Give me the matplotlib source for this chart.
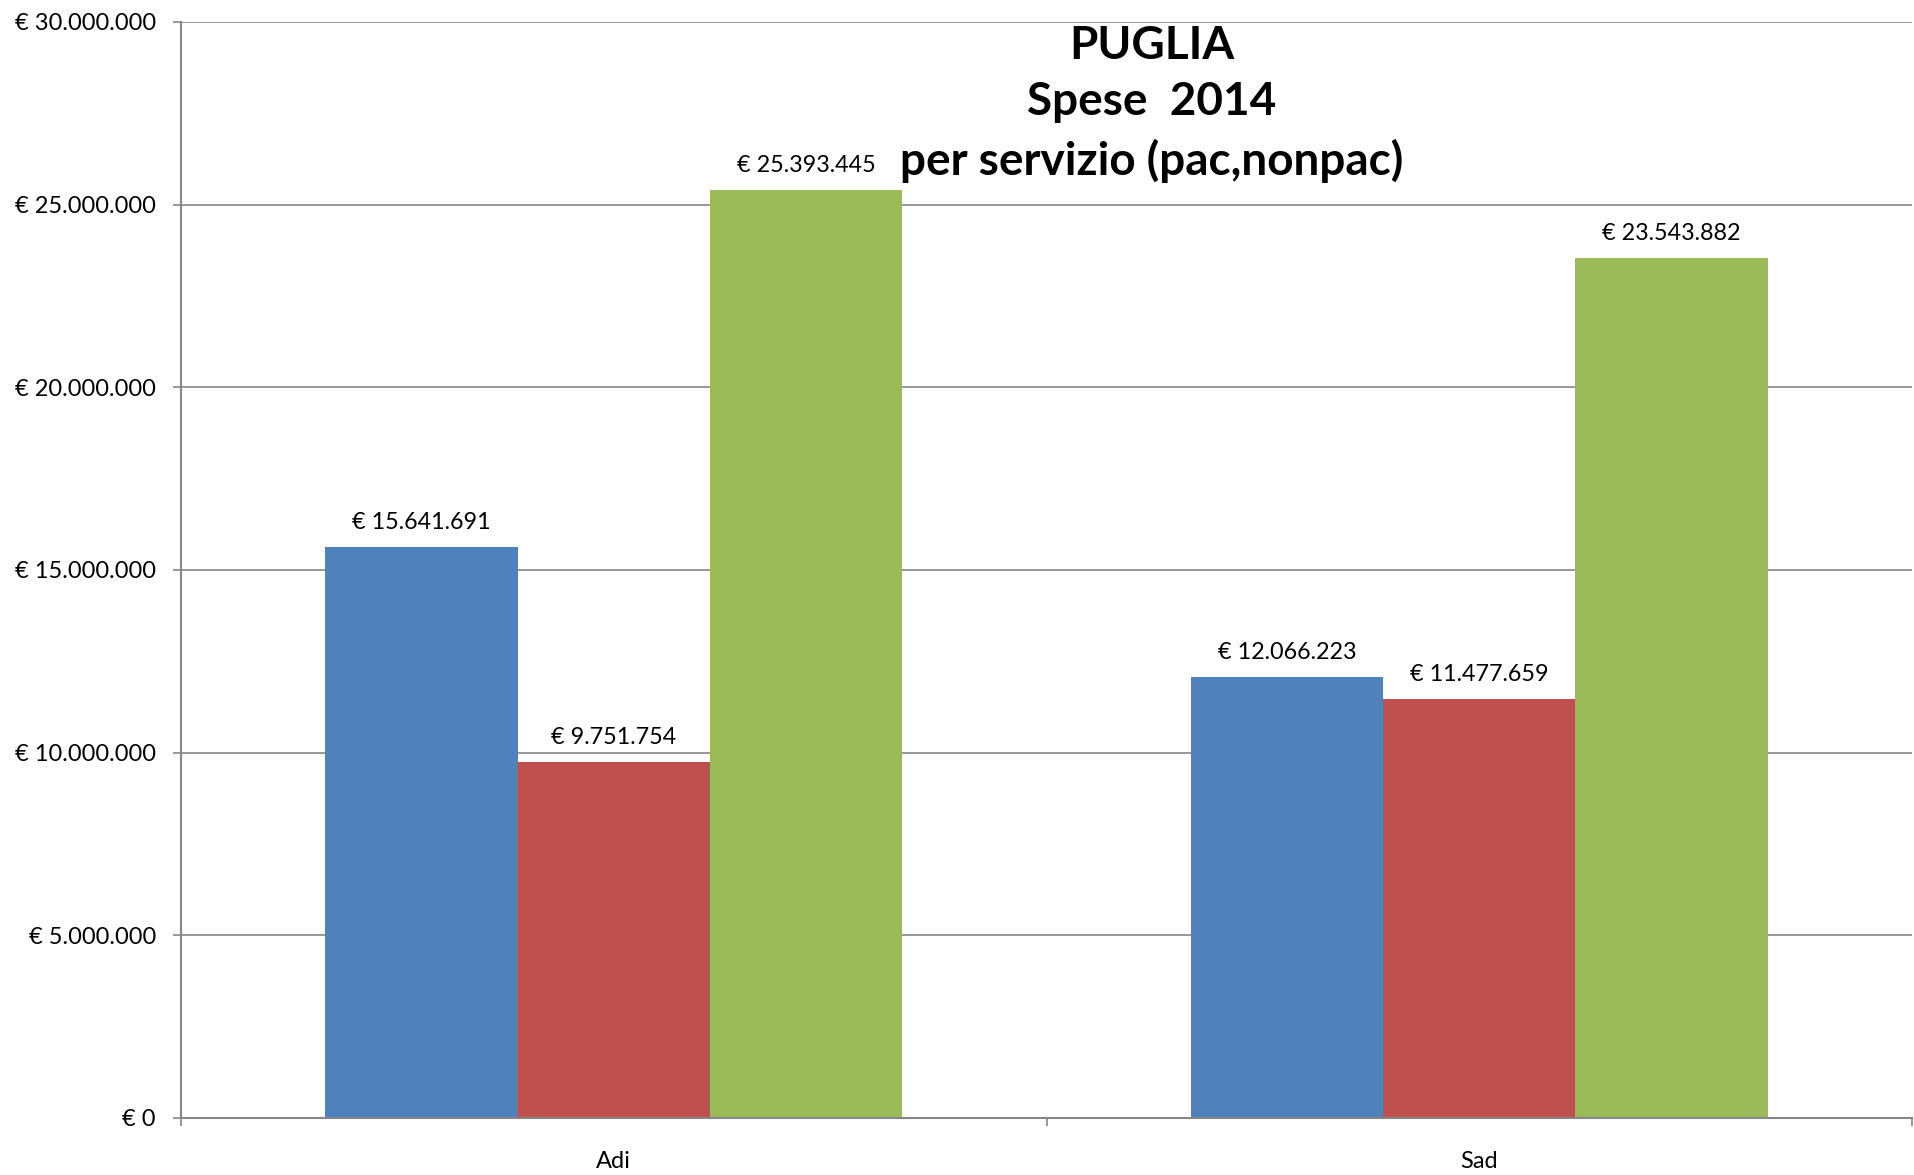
import numpy as np
import matplotlib.pyplot as plt
from matplotlib.ticker import FuncFormatter

plt.rcParams['font.family'] = ['Lato', 'DejaVu Sans']

# dati
categorie = ['Adi', 'Sad']
serie_1 = [15641691, 12066223]
serie_2 = [9751754, 11477659]
serie_3 = [25393445, 23543882]
colori = ['#4F81BD', '#C0504D', '#9BBB59']

def euro(v, pos=None):
    if v == 0:
        return '€ 0'
    return '€ ' + f'{int(round(v)):,}'.replace(',', '.')

fig = plt.figure(figsize=(19.14, 11.75), dpi=100)
ax = fig.add_axes([181 / 1914, 1 - 1118 / 1175, 1731 / 1914, 1096 / 1175])

x = np.arange(len(categorie))
w = 2 / 9
for i, (vals, c) in enumerate(zip([serie_1, serie_2, serie_3], colori)):
    bars = ax.bar(x + (i - 1) * w, vals, width=w, color=c, zorder=2)
    for b, v in zip(bars, vals):
        ax.annotate(euro(v), (b.get_x() + b.get_width() / 2, v),
                    xytext=(0, 10), textcoords='offset points',
                    ha='center', va='bottom', fontsize=16.8)

ax.set_xlim(-0.5, 1.5)
ax.set_ylim(0, 30000000)
ax.set_yticks(np.arange(0, 30000001, 5000000))
ax.yaxis.set_major_formatter(FuncFormatter(euro))
ax.grid(axis='y', color='#868686', linewidth=1.2, zorder=0)

ax.set_xticks([-0.5, 0.5, 1.5])
ax.set_xticklabels([])
ax.set_xticks(x, minor=True)
ax.set_xticklabels(categorie, minor=True)
ax.tick_params(axis='x', which='minor', length=0, pad=24, labelsize=17)
ax.tick_params(axis='x', which='major', length=6, color='#868686', width=1.2)
ax.tick_params(axis='y', length=6, color='#868686', width=1.2, pad=12, labelsize=17)

for s in ['top', 'right']:
    ax.spines[s].set_visible(False)
for s in ['left', 'bottom']:
    ax.spines[s].set_color('#868686')
    ax.spines[s].set_linewidth(1.5)

fig.text(1152 / 1914, 1 - 104 / 1175, 'PUGLIA\nSpese  2014\nper servizio (pac,nonpac)',
         ha='center', va='center', fontsize=33, fontweight='bold', linespacing=1.43)

fig.savefig('out.png', dpi=100)
